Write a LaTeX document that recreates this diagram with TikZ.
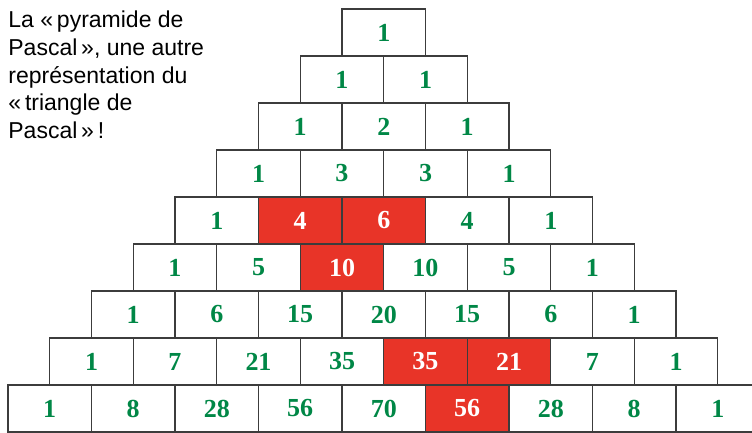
\documentclass[tikz,border=0pt]{standalone}
\usepackage{fontspec}
\setmainfont{Liberation Serif}
\setsansfont{Liberation Sans}
\definecolor{pgreen}{RGB}{0,135,70}
\definecolor{pred}{RGB}{232,52,40}
\definecolor{pline}{RGB}{60,60,60}
\tikzset{
  cell/.style={draw=pline, line width=0.6pt, minimum width=41.75pt,
    minimum height=23.5pt, inner sep=0pt, text=pgreen,
    font=\bfseries\fontsize{13}{15}\selectfont},
  hot/.style={fill=pred, text=white},
  % the red cells
  c5-1/.style={hot}, c5-2/.style={hot}, c6-2/.style={hot},
  c8-4/.style={hot}, c8-5/.style={hot}, c9-5/.style={hot}
}

\begin{document}
\begin{tikzpicture}[x=0.5pt, y=-0.5pt]
  \useasboundingbox (0,0) rectangle (752,433);
  \clip (0,0) rectangle (752,433);
  % Caption
  \node[anchor=north west, align=left, inner sep=0pt,
    font=\sffamily\fontsize{11.5}{13.9}\selectfont] (caption) at (8,10.5)
    {La «\,pyramide de\\Pascal\,», une autre\\représentation du\\«\,triangle de\\Pascal\,»\,!};
  % Rows of the pyramid
  \foreach \r/\vals in {1/{1}, 2/{1,1}, 3/{1,2,1}, 4/{1,3,3,1},
      5/{1,4,6,4,1}, 6/{1,5,10,10,5,1}, 7/{1,6,15,20,15,6,1},
      8/{1,7,21,35,35,21,7,1}, 9/{1,8,28,56,70,56,28,8,1}}
    \foreach \v [count=\k from 0] in \vals
      \node[cell, c\r-\k/.try] (c\r-\k)
        at ({8+(9-\r)*41.75+\k*83.5+41.75}, {9+(\r-1)*47+23.5}) {\v};
\end{tikzpicture}
\end{document}
